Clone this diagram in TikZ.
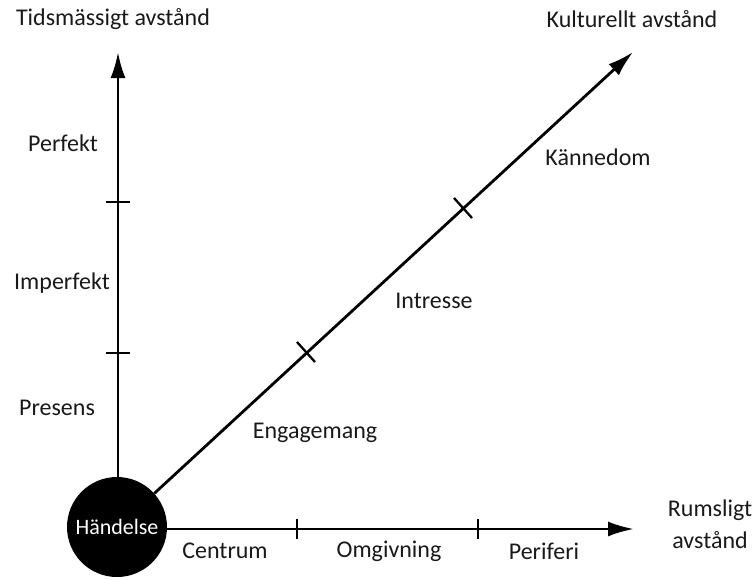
\documentclass[tikz,border=0pt]{standalone}
\usepackage{fontspec}
\setmainfont{Carlito}
\usetikzlibrary{arrows.meta,calc}
\begin{document}
\begin{tikzpicture}[x=1pt,y=-1pt,
  axis/.style={line width=2.8pt,-{Latex[length=26pt,width=15pt]}},
  tick/.style={line width=2.3pt},
  lbl/.style={font=\fontsize{24}{32}\selectfont,text=black!90,inner sep=0pt},
  ev/.style={circle,fill=black,minimum size=100pt,inner sep=0pt,text=white,font=\fontsize{22}{26}\selectfont}]
\useasboundingbox (0,0) rectangle (755,579);
\node[ev] (h) at (117,527) {Händelse};
\coordinate (vt) at (118,52);
\coordinate (ht) at (634,529);
\coordinate (dt) at (633,52);
\draw[axis] (h.north -| vt) -- (vt);
\draw[axis] (h.east |- ht) -- (ht);
\draw[axis] (h.{42.5}) -- (dt);
% ticks vertical
\coordinate (v1) at (118,353);
\coordinate (v2) at (118,202);
\draw[tick] ($(v1)+(-12,0)$) -- ($(v1)+(12,0)$);
\draw[tick] ($(v2)+(-12,0)$) -- ($(v2)+(12,0)$);
% ticks horizontal
\coordinate (h1) at (297,529);
\coordinate (h2) at (478,529);
\draw[tick] ($(h1)+(0,-10)$) -- ($(h1)+(0,10)$);
\draw[tick] ($(h2)+(0,-10)$) -- ($(h2)+(0,10)$);
% ticks diagonal
\coordinate (d1) at (306,352);
\coordinate (d2) at (463,208);
\draw[tick] ($(d1)+(-9,-10)$) -- ($(d1)+(9,10)$);
\draw[tick] ($(d2)+(-9,-10)$) -- ($(d2)+(9,10)$);
% labels
\node[lbl] (t1) at (113,19) {Tidsmässigt avstånd};
\node[lbl] (t2) at (632,19) {Kulturellt avstånd};
\node[lbl,align=center] (t3) at (710,524) {Rumsligt\\avstånd};
\node[lbl] (p1) at (63,143) {Perfekt};
\node[lbl] (p2) at (62,283) {Imperfekt};
\node[lbl] (p3) at (57,408) {Presens};
\node[lbl] (c1) at (315,433) {Engagemang};
\node[lbl] (c2) at (434,301) {Intresse};
\node[lbl] (c3) at (598,157) {Kännedom};
\node[lbl] (r1) at (225,551) {Centrum};
\node[lbl] (r2) at (389,551) {Omgivning};
\node[lbl] (r3) at (544,551) {Periferi};
\end{tikzpicture}
\end{document}
